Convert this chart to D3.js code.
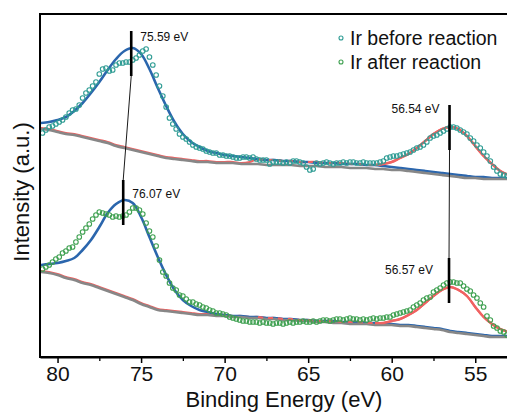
<!DOCTYPE html>
<html><head><meta charset="utf-8">
<script src="https://cdn.jsdelivr.net/npm/d3@7"></script>
<style>
body{margin:0;background:#fff}
svg{display:block}
text{font-family:"Liberation Sans",Arial,Helvetica,sans-serif;fill:#111}
</style>
</head><body>
<svg id="chart" width="507" height="413"></svg>
<script>
// ---------- DATA ----------
const dataEnergy = [80.9,80.7,80.5,80.3,80.1,79.9,79.7,79.5,79.3,79.1,78.9,78.7,78.5,78.3,78.1,77.9,77.7,77.5,77.3,77.1,76.9,76.7,76.5,76.3,76.1,75.9,75.7,75.5,75.3,75.1,74.9,74.7,74.5,74.3,74.1,73.9,73.7,73.5,73.3,73.1,72.9,72.7,72.5,72.3,72.1,71.9,71.7,71.5,71.3,71.1,70.9,70.7,70.5,70.3,70.1,69.9,69.7,69.5,69.3,69.1,68.9,68.7,68.5,68.3,68.1,67.9,67.7,67.5,67.3,67.1,66.9,66.7,66.5,66.3,66.1,65.9,65.7,65.5,65.3,65.1,64.9,64.7,64.5,64.3,64.1,63.9,63.7,63.5,63.3,63.1,62.9,62.7,62.5,62.3,62.1,61.9,61.7,61.5,61.3,61.1,60.9,60.7,60.5,60.3,60.1,59.9,59.7,59.5,59.3,59.1,58.9,58.7,58.5,58.3,58.1,57.9,57.7,57.5,57.3,57.1,56.9,56.7,56.5,56.3,56.1,55.9,55.7,55.5,55.3,55.1,54.9,54.7,54.5,54.3,54.1,53.9,53.7,53.5,53.3,53.1];

const beforeIntensity = [
224,227,230,231,233,235,237,240,244,247,
248,252,259,264,267,271,275,283,288,289,
286,287,292,294,294,295,295,297,299,302,
306,308,300,292,282,271,261,250,239,233,
228,223,220,218,215,212,210,209,208,206,
205,204,204,202,202,201,201,200,199,199,
200,200,199,200,198,197,197,197,193,195,
195,195,194,195,194,196,196,195,194,190,
187,188,194,193,194,195,194,193,194,194,
195,194,195,195,194,194,195,194,194,194,
194,195,196,199,200,201,201,202,203,204,
205,207,209,210,212,215,219,221,222,224,
226,228,230,230,229,227,225,223,219,216,
212,209,205,201,196,190,186,183,182,181];

const afterIntensity = [
88,90,92,95,98,100,104,106,109,110,
115,120,125,129,133,138,142,145,144,143,
142,140,141,140,141,142,145,149,149,147,
143,134,126,120,111,97,85,81,74,69,
67,62,61,58,55,55,53,52,50,49,
47,46,44,44,43,42,40,39,38,37,
36,36,35,35,35,34,35,34,34,33,
34,34,33,34,35,34,35,35,36,35,
35,36,35,36,37,37,36,37,38,38,
37,38,39,38,38,37,38,37,38,39,
38,39,39,40,40,42,43,44,45,46,
47,50,52,54,57,59,60,65,67,69,
72,74,75,75,74,74,71,68,66,62,
59,54,50,41,37,31,29,26,25,22];

const fitEnergy = [81,80.5,80,79.5,79,78.5,78,77.5,77,76.5,76,75.5,75,74.5,74,73.5,73,72.5,72,71.5,71,70.5,70,69.5,69,68.5,68,67.5,67,66.5,66,65.5,65,64.5,64,63.5,63,62.5,62,61.5,61,60.5,60,59.5,59,58.5,58,57.5,57,56.5,56,55.5,55,54.5,54,53.5,53];

const beforeBackground = [228,227,225,223,222,220,218,216,214,211,209,207,205,203,201,199,198,197,196,195,195,194,194,194,193,193,193,192,192,192,192,191,191,191,190,190,190,189,189,189,188,188,187,187,186,185,184,183,182,181,180,179,179,178,178,178,178];
const beforeFit4f = [234,235,237,240,246,254,264,275,287,298,306,309,303,288,269,251,235,223,215,210,206,204,202,201,200,199,198,197,197,196,196,195,195,194,194,194,193,193,193,192,192,191,190,189,188,187,186,185,184,183,182,181,180,180,179,179,179];
const beforeFit5p = [229,228,226,224,223,221,219,217,215,212,210,208,206,204,202,200,199,198,197,196,196,195,195,195,194,195,198,197,197,196,196,195,195,195,194,194,194,193,193,192,192,193,195,199,203,209,216,223,228,230,228,221,211,201,193,186,182];

const afterBackground = [85,84,82,79,77,74,72,69,66,63,60,57,53,50,47,46,45,44,43,42,42,41,41,40,40,39,39,38,38,37,37,36,36,35,35,34,34,33,33,33,32,32,32,31,31,30,29,28,27,25,24,23,22,21,20,20,20];
const afterFit4f = [92,93,94,96,99,107,117,130,144,153,157,154,140,120,100,82,67,57,51,47,45,43,42,41,41,40,40,39,39,38,38,37,37,36,36,36,35,35,35,34,34,33,33,32,32,31,30,29,28,26,25,24,23,22,21,21,21];
const afterFit5p = [86,85,83,80,78,75,73,70,67,64,61,58,54,51,48,47,46,45,44,43,43,42,42,41,41,40,40,39,39,38,38,37,37,36,36,36,35,35,35,34,34,34,36,38,42,47,54,61,67,70,67,61,50,40,33,28,25];

const peakEnergy = [75.59, 76.07, 56.54, 56.57];
const peakLabel  = ["75.59 eV", "76.07 eV", "56.54 eV", "56.57 eV"];
const barLow  = [281, 132, 207, 54];
const barHigh = [326, 177, 252, 99];
const labelLevel = [316, 159, 244, 83];

const seriesNames = ["Ir before reaction", "Ir after reaction"];
const xTicks = [80, 75, 70, 65, 60, 55];
const xMinorTicks = [77.5, 72.5, 67.5, 62.5, 57.5];

// ---------- DRAW ----------
const svg = d3.select("#chart");
const x = d3.scaleLinear().domain([81.05, 53.1]).range([40, 507]);
const y = d3.scaleLinear().domain([0, 343]).range([357, 14]);
const zip = (a, b) => a.map((v, i) => [v, b[i]]);
const line = d3.line().x(d => x(d[0])).y(d => y(d[1])).curve(d3.curveCatmullRom.alpha(0.5));

svg.append("defs").append("clipPath").attr("id", "clip")
  .append("rect").attr("x", 41).attr("y", 15).attr("width", 470).attr("height", 341);
const g = svg.append("g").attr("clip-path", "url(#clip)");

const BLUE = "#2b66ad", RED = "#f06262", GRAY = "#878787";
const TEAL = "#2f9c94", GREEN = "#3ea050";

function drawFits(bg, f4, f5) {
  const r = zip(fitEnergy, f5), b = zip(fitEnergy, f4), k = zip(fitEnergy, bg);
  g.append("path").attr("d", line(r)).attr("fill", "none").attr("stroke", RED).attr("stroke-width", 2.2);
  g.append("path").attr("d", line(b)).attr("fill", "none").attr("stroke", BLUE).attr("stroke-width", 2.6);
  g.append("path").attr("d", line(k)).attr("fill", "none").attr("stroke", GRAY).attr("stroke-width", 2.6);
  g.append("path").attr("d", line(r.filter(d => d[0] <= 68 && d[0] >= 60.5)))
    .attr("fill", "none").attr("stroke", RED).attr("stroke-width", 2).attr("stroke-dasharray", "5,5");
  g.append("path").attr("d", line(r.filter(d => d[0] <= 61)))
    .attr("fill", "none").attr("stroke", RED).attr("stroke-width", 2.4);
}
drawFits(beforeBackground, beforeFit4f, beforeFit5p);
drawFits(afterBackground, afterFit4f, afterFit5p);

function drawPoints(vals, color) {
  g.append("g").selectAll("circle").data(zip(dataEnergy, vals)).join("circle")
    .attr("cx", d => x(d[0])).attr("cy", d => y(d[1])).attr("r", 2.3)
    .attr("fill", "none").attr("stroke", color).attr("stroke-width", 1.1);
}
drawPoints(beforeIntensity, TEAL);
drawPoints(afterIntensity, GREEN);

// peak markers
peakEnergy.forEach((e, i) => {
  svg.append("line").attr("x1", x(e)).attr("x2", x(e)).attr("y1", y(barLow[i])).attr("y2", y(barHigh[i]))
    .attr("stroke", "#000").attr("stroke-width", 2.6);
  const right = i < 2;
  svg.append("text").attr("x", x(e) + (right ? 9 : (i === 2 ? -10 : -16)))
    .attr("y", y(labelLevel[i])).attr("text-anchor", right ? "start" : "end")
    .attr("font-size", 12).text(peakLabel[i]);
});
[[0, 1], [2, 3]].forEach(([a, b]) => {
  svg.append("line").attr("x1", x(peakEnergy[a])).attr("y1", y(barLow[a]))
    .attr("x2", x(peakEnergy[b])).attr("y2", y(barHigh[b]))
    .attr("stroke", "#000").attr("stroke-width", 0.9);
});

// frame
svg.append("rect").attr("x", 40).attr("y", 14).attr("width", 468).attr("height", 343)
  .attr("fill", "none").attr("stroke", "#000").attr("stroke-width", 2);

// axes
const ax = svg.append("g").attr("transform", "translate(0,357)")
  .call(d3.axisBottom(x).tickValues(xTicks).tickSize(6).tickSizeOuter(0).tickPadding(3).tickFormat(d3.format("d")));
ax.select(".domain").attr("stroke-width", 2);
ax.selectAll(".tick line").attr("stroke-width", 1.5);
ax.selectAll("text").attr("font-size", 21).attr("font-family", '"Liberation Sans",Arial,sans-serif').attr("fill", "#111");
const axm = svg.append("g").attr("transform", "translate(0,357)")
  .call(d3.axisBottom(x).tickValues(xMinorTicks).tickSize(4).tickFormat(""));
axm.select(".domain").remove();
axm.selectAll(".tick line").attr("stroke-width", 1.3);

svg.append("text").attr("x", 284).attr("y", 407).attr("text-anchor", "middle")
  .attr("font-size", 22).text("Binding Energy (eV)");
svg.append("text").attr("transform", "translate(29,192) rotate(-90)").attr("text-anchor", "middle")
  .attr("font-size", 22).text("Intensity (a.u.)");

// legend
const legColors = [TEAL, GREEN];
seriesNames.forEach((n, i) => {
  svg.append("circle").attr("cx", 341).attr("cy", 38 + i * 24).attr("r", 2)
    .attr("fill", "none").attr("stroke", legColors[i]).attr("stroke-width", 1.1);
  svg.append("text").attr("x", 350).attr("y", 45 + i * 24).attr("font-size", 19.5).text(n);
});
</script>
</body></html>
